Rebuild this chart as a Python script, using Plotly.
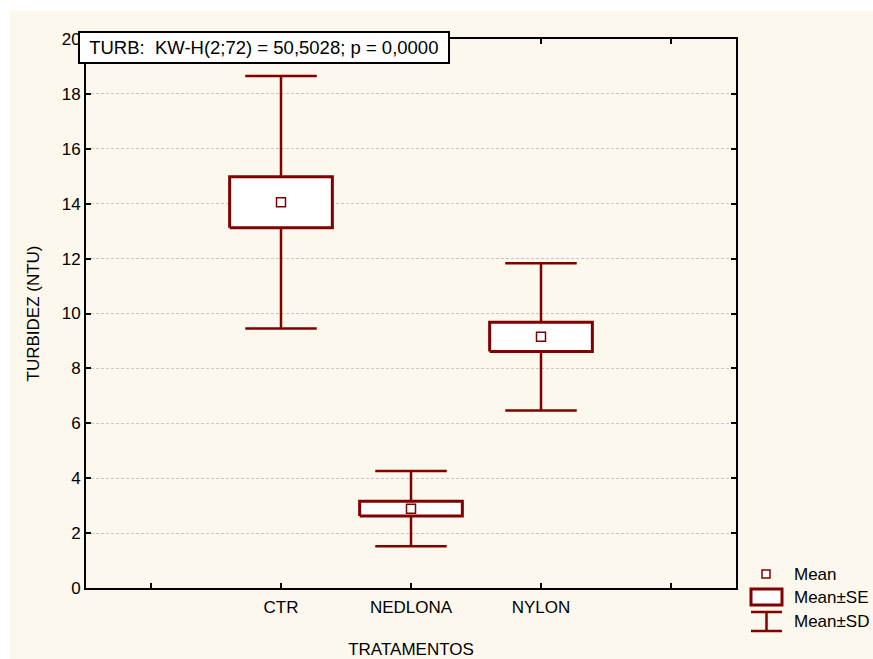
import plotly.graph_objects as go

categories = ["CTR", "NEDLONA", "NYLON"]
means = [14.05, 2.89, 9.15]
se = [0.93, 0.27, 0.53]
sd = [4.60, 1.37, 2.68]
tick_labels = ["", "CTR", "NEDLONA", "NYLON", ""]
y_ticks = [0, 2, 4, 6, 8, 10, 12, 14, 16, 18, 20]
title_text = "\u00a0TURB:\u00a0\u00a0KW-H(2;72) = 50,5028; p = 0,0000"

RED = "#800000"
CREAM = "#fdf8ed"
FONT = "Liberation Sans, Arial, sans-serif"
FS = 17

xpos = [1, 2, 3]
box_half = 0.395
cap_half = 0.275

# SE boxes
bx, by = [], []
for x, m, s in zip(xpos, means, se):
    bx += [x - box_half, x + box_half, x + box_half, x - box_half, x - box_half, None]
    by += [m - s, m - s, m + s, m + s, m - s, None]

# SD whiskers (stems)
wx, wy = [], []
for x, m, s, d in zip(xpos, means, se, sd):
    wx += [x, x, None, x, x, None]
    wy += [m + s, m + d, None, m - s, m - d, None]

# caps
cx, cy = [], []
for x, m, d in zip(xpos, means, sd):
    cx += [x - cap_half, x + cap_half, None, x - cap_half, x + cap_half, None]
    cy += [m + d, m + d, None, m - d, m - d, None]

fig = go.Figure()
fig.add_trace(go.Scatter(x=wx, y=wy, mode="lines", line=dict(color=RED, width=2.5),
                         showlegend=False, hoverinfo="skip"))
fig.add_trace(go.Scatter(x=cx, y=cy, mode="lines", line=dict(color=RED, width=2.5),
                         showlegend=False, hoverinfo="skip"))
fig.add_trace(go.Scatter(x=bx, y=by, mode="lines", fill="toself", fillcolor="white",
                         line=dict(color=RED, width=3), showlegend=False, hoverinfo="skip"))
fig.add_trace(go.Scatter(x=xpos, y=means, mode="markers",
                         marker=dict(symbol="square-open", size=9, color=RED, line=dict(width=1.5)),
                         showlegend=False, text=categories))

W, H = 873, 659
L, R, T, B = 86, 736, 39, 588


def px(xp):
    return (xp - L) / (R - L)


def py(yp):
    return (B - yp) / (B - T)


shapes = [
    dict(type="rect", xref="paper", yref="paper", x0=px(10), x1=px(873), y0=py(659), y1=py(11),
         fillcolor=CREAM, line=dict(width=0), layer="below"),
    # legend: SE rect
    dict(type="rect", xref="paper", yref="paper", x0=px(751), x1=px(782), y0=py(605), y1=py(589),
         line=dict(color=RED, width=3), fillcolor="white"),
    # legend: SD whisker
    dict(type="line", xref="paper", yref="paper", x0=px(751), x1=px(782), y0=py(612), y1=py(612),
         line=dict(color=RED, width=2.5)),
    dict(type="line", xref="paper", yref="paper", x0=px(751), x1=px(782), y0=py(631), y1=py(631),
         line=dict(color=RED, width=2.5)),
    dict(type="line", xref="paper", yref="paper", x0=px(766.5), x1=px(766.5), y0=py(612), y1=py(631),
         line=dict(color=RED, width=2.5)),
    # legend: mean marker
    dict(type="rect", xref="paper", yref="paper", x0=px(762), x1=px(770), y0=py(578), y1=py(570),
         line=dict(color=RED, width=1.5), fillcolor="white"),
]

annotations = [
    dict(text=title_text, xref="paper", yref="paper", x=px(78), y=py(31), xanchor="left", yanchor="top",
         showarrow=False, font=dict(family=FONT, size=18.5, color="black"), bgcolor="white",
         bordercolor="black", borderwidth=2, borderpad=4, align="left", width=360),
    dict(text="Mean", xref="paper", yref="paper", x=px(792), y=py(574), xanchor="left", yanchor="middle",
         showarrow=False, font=dict(family=FONT, size=FS, color="black")),
    dict(text="Mean±SE", xref="paper", yref="paper", x=px(792), y=py(597), xanchor="left", yanchor="middle",
         showarrow=False, font=dict(family=FONT, size=FS, color="black")),
    dict(text="Mean±SD", xref="paper", yref="paper", x=px(792), y=py(621), xanchor="left", yanchor="middle",
         showarrow=False, font=dict(family=FONT, size=FS, color="black")),
]

fig.update_layout(
    width=W, height=H,
    margin=dict(l=L, r=W - R, t=T, b=H - B, pad=0, autoexpand=False),
    paper_bgcolor="white", plot_bgcolor="white",
    font=dict(family=FONT, size=FS, color="black"),
    shapes=shapes, annotations=annotations,
    showlegend=False,
)
fig.update_xaxes(
    range=[-0.5, 4.5], tickmode="array", tickvals=[0, 1, 2, 3, 4], ticktext=tick_labels,
    showline=True, linecolor="black", linewidth=2, mirror="ticks",
    ticks="inside", ticklen=5, tickwidth=2, tickcolor="black",
    showgrid=False, zeroline=False, ticklabelstandoff=3, automargin=False,
    title=dict(text="TRATAMENTOS", font=dict(size=FS), standoff=27),
    tickfont=dict(size=FS),
)
fig.update_yaxes(
    range=[0, 20], tickmode="array", tickvals=y_ticks,
    showline=True, linecolor="black", linewidth=2, mirror="ticks",
    ticks="inside", ticklen=5, tickwidth=2, tickcolor="black",
    showgrid=True, gridcolor="#c8c8c8", gridwidth=1, griddash="3px,2px",
    zeroline=False, automargin=False,
    title=dict(text="TURBIDEZ (NTU)", font=dict(size=FS), standoff=18),
    tickfont=dict(size=FS),
)

fig.write_html("out.html", config={"displayModeBar": False},
               post_script="document.body.style.margin='0';")
